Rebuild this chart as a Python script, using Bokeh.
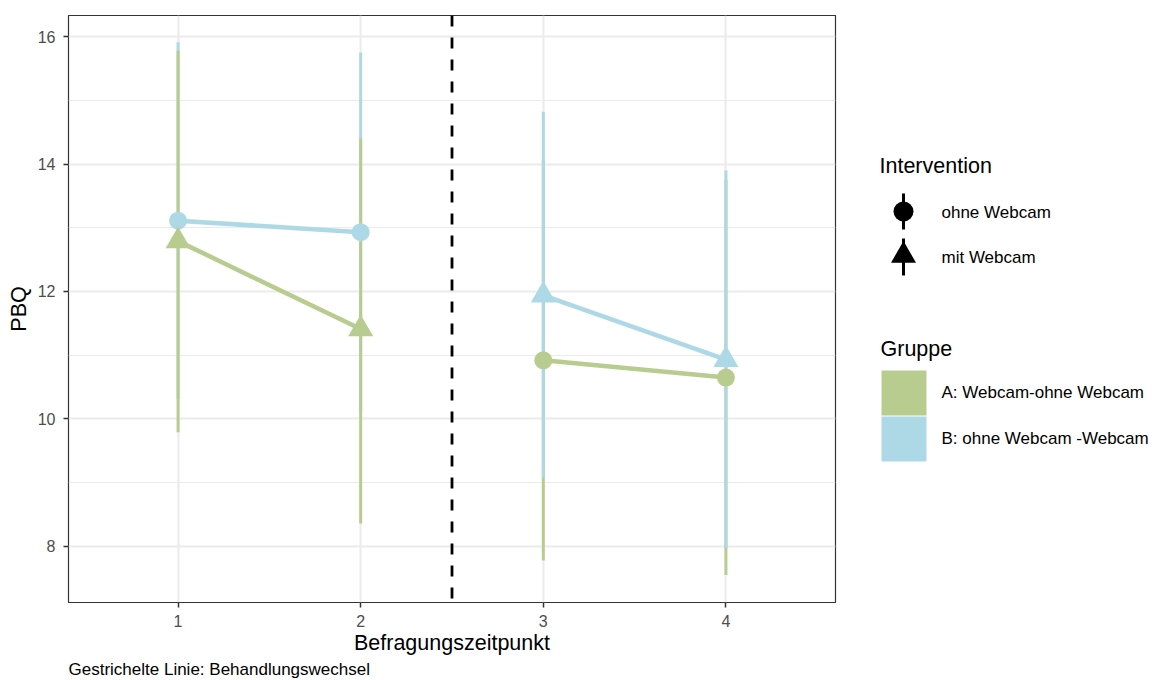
from bokeh.plotting import figure
from bokeh.models import Range1d, FixedTicker, Span, Title, ColumnDataSource
from bokeh.layouts import row
from bokeh.embed import file_html
from bokeh.resources import INLINE
from bokeh.core.properties import value

FONT = "Liberation Sans"

# ---------------- data ----------------
time_points = [1, 2, 3, 4]
a_mean = [12.79, 11.41, 10.92, 10.65]
a_lower = [9.79, 8.36, 7.78, 7.55]
a_upper = [15.78, 14.40, 14.06, 13.75]
a_intervention = ["mit Webcam", "mit Webcam", "ohne Webcam", "ohne Webcam"]

b_mean = [13.11, 12.93, 11.94, 10.93]
b_lower = [10.31, 10.11, 9.08, 7.98]
b_upper = [15.91, 15.75, 14.82, 13.90]
b_intervention = ["ohne Webcam", "ohne Webcam", "mit Webcam", "mit Webcam"]

group_labels = ["A: Webcam-ohne Webcam", "B: ohne Webcam -Webcam"]
group_colors = ["#B8CC8F", "#ADD8E6"]
intervention_labels = ["ohne Webcam", "mit Webcam"]
y_ticks = [8, 10, 12, 14, 16]
y_minor = [9, 11, 13, 15]
switch_point = 2.5
phases = [(0, 2), (2, 4)]

marker_of = {"ohne Webcam": "circle", "mit Webcam": "triangle"}
size_of = {"ohne Webcam": 18, "mit Webcam": 25}

GREEN, BLUE = group_colors

# ---------------- main plot ----------------
p = figure(width=850, height=680,
           x_range=Range1d(0.4, 4.6), y_range=Range1d(7.12, 16.33),
           output_backend="svg", toolbar_location=None,
           min_border_left=68, min_border_right=15,
           min_border_top=15, min_border_bottom=78)

p.background_fill_color = "white"
p.border_fill_color = "white"
p.outline_line_color = "#333333"
p.outline_line_width = 1.2

p.xaxis.ticker = FixedTicker(ticks=time_points)
p.yaxis.ticker = FixedTicker(ticks=y_ticks, minor_ticks=y_minor)
p.xgrid.grid_line_color = "#EBEBEB"
p.xgrid.grid_line_width = 2
p.ygrid.grid_line_color = "#EBEBEB"
p.ygrid.grid_line_width = 2
p.ygrid.minor_grid_line_color = "#EBEBEB"
p.ygrid.minor_grid_line_width = 1

for ax in (p.xaxis, p.yaxis):
    ax.axis_line_color = None
    ax.major_tick_line_color = "#333333"
    ax.major_tick_line_width = 1.5
    ax.major_tick_in = 0
    ax.major_tick_out = 5
    ax.minor_tick_line_color = None
    ax.major_label_text_font = FONT
    ax.major_label_text_font_size = "16px"
    ax.major_label_text_color = "#4D4D4D"
    ax.major_label_standoff = 8
    ax.axis_label_text_font = FONT
    ax.axis_label_text_font_size = "21.5px"
    ax.axis_label_text_font_style = "normal"
    ax.axis_label_text_color = "black"

p.xaxis.axis_label = "Befragungszeitpunkt"
p.yaxis.axis_label = "PBQ"
p.xaxis.major_label_standoff = 7
p.xaxis.axis_label_standoff = 1
p.yaxis.axis_label_standoff = 4

# caption below the x axis, left-aligned with the panel
p.add_layout(Title(text="Gestrichelte Linie: Behandlungswechsel", align="left",
                   text_font=FONT, text_font_size="17px", text_font_style="normal",
                   text_color="black", standoff=0), "below")

# error bars (drawing order as in reference)
def seg(idx, lower, upper, color):
    p.segment(x0=[time_points[i] for i in idx], y0=[lower[i] for i in idx],
              x1=[time_points[i] for i in idx], y1=[upper[i] for i in idx],
              line_color=color, line_width=3)

seg([0, 1], b_lower, b_upper, BLUE)
seg([0, 1, 2, 3], a_lower, a_upper, GREEN)
seg([2, 3], b_lower, b_upper, BLUE)

# switch line
p.add_layout(Span(location=switch_point, dimension="height", line_color="black",
                  line_width=2.8, line_dash="11 11"))

# connecting lines per phase
for s, e in phases:
    p.line(time_points[s:e], a_mean[s:e], line_color=GREEN, line_width=4.5)
    p.line(time_points[s:e], b_mean[s:e], line_color=BLUE, line_width=4.5)

# points
for mean, interv, color in ((b_mean, b_intervention, BLUE), (a_mean, a_intervention, GREEN)):
    src = ColumnDataSource(dict(x=time_points, y=mean,
                                marker=[marker_of[v] for v in interv],
                                size=[size_of[v] for v in interv]))
    p.scatter("x", "y", marker="marker", size="size", source=src,
              fill_color=color, line_color=color, line_width=0)

# ---------------- legend panel ----------------
# the row aligns this panel's frame with the main frame (page y 15..602)
leg = figure(width=305, height=680, x_range=Range1d(850, 1155), y_range=Range1d(602, 15),
             output_backend="svg", toolbar_location=None,
             min_border_left=0, min_border_right=0, min_border_top=15, min_border_bottom=78,
             x_axis_location=None, y_axis_location=None)
leg.grid.visible = False
leg.outline_line_color = None
leg.background_fill_color = "white"
leg.border_fill_color = "white"

key_x = 903
label_x = 941
grp_top = [370, 416]
key_h = 45

leg.text(x=[879, 880], y=[165, 348], text=["Intervention", "Gruppe"],
         text_font=value(FONT), text_font_size="21.5px", text_color="black",
         text_baseline="middle", text_align="left")
leg.segment(x0=[key_x, key_x], y0=[193, 238], x1=[key_x, key_x], y1=[229, 275],
            line_color="black", line_width=3)
leg.scatter(x=[key_x, key_x], y=[211, 255],
            marker=[marker_of[v] for v in intervention_labels],
            size=[20, 25], fill_color="black", line_color="black", line_width=0)
leg.text(x=[label_x] * 2, y=[212, 257], text=intervention_labels,
         text_font=value(FONT), text_font_size="17px", text_color="black",
         text_baseline="middle", text_align="left")

leg.quad(left=[881, 881], right=[926, 926], top=grp_top,
         bottom=[t + key_h for t in grp_top], fill_color=group_colors, line_color=None)
leg.text(x=[label_x] * 2, y=[392, 438], text=group_labels,
         text_font=value(FONT), text_font_size="17px", text_color="black",
         text_baseline="middle", text_align="left")

layout = row(p, leg)
open("out.html", "w").write(file_html(layout, INLINE))
